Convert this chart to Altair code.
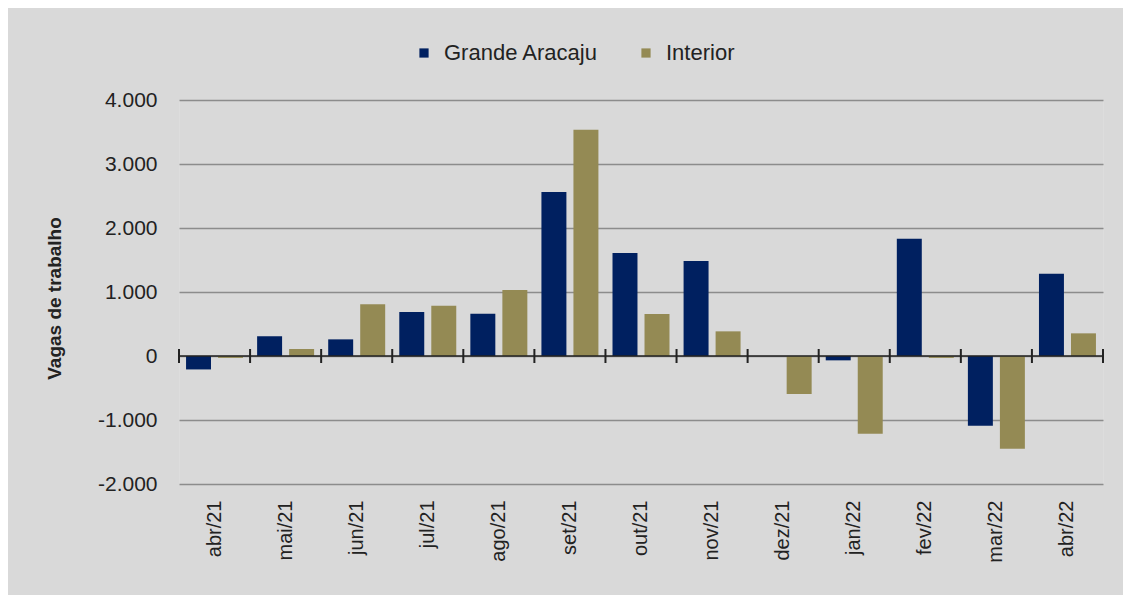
import altair as alt
import pandas as pd

meses = ["abr/21", "mai/21", "jun/21", "jul/21", "ago/21", "set/21", "out/21",
         "nov/21", "dez/21", "jan/22", "fev/22", "mar/22", "abr/22"]
series = ["Grande Aracaju", "Interior"]
grande_aracaju = [-210, 307, 260, 688, 661, 2562, 1609, 1484, 0, -68, 1833, -1089, 1286]
interior = [-30, 110, 807, 786, 1031, 3536, 656, 385, -594, -1214, -30, -1448, 354]
y_ticks = [-2000, -1000, 0, 1000, 2000, 3000, 4000]
colors = ["#002060", "#948A54"]

rows = []
for i, m in enumerate(meses):
    rows.append({"mes": m, "serie": series[0], "valor": grande_aracaju[i]})
    rows.append({"mes": m, "serie": series[1], "valor": interior[i]})
df = pd.DataFrame(rows)
df_meses = pd.DataFrame({"mes": meses})

FONT = "Liberation Sans"
x_scale = alt.Scale(paddingInner=0, paddingOuter=0)

bars = alt.Chart(df).mark_bar().encode(
    x=alt.X("mes:N", sort=meses, scale=x_scale,
            axis=alt.Axis(title=None, labelAngle=-90, labelFontSize=20, labelPadding=16,
                          ticks=False, domain=False, labelColor="#222222", grid=False)),
    xOffset=alt.XOffset("serie:N", sort=series,
                        scale=alt.Scale(paddingInner=0.22, paddingOuter=0.22)),
    y=alt.Y("valor:Q", scale=alt.Scale(domain=[-2000, 4000], nice=False, zero=False),
            axis=alt.Axis(values=y_ticks, title="Vagas de trabalho",
                          labelExpr="replace(replace(format(datum.value, ',.0f'), ',', '.'), '\u2212', '-')",
                          labelFontSize=21, labelColor="#222222", labelPadding=22,
                          ticks=False, domain=False, grid=True, gridColor="#8c8c8c", gridWidth=1.5,
                          titleFontSize=19, titleFontWeight="bold", titleColor="#222222",
                          titleX=-125, titleY=198, titleAngle=-90, titleAlign="center",
                          titleBaseline="middle")),
    color=alt.Color("serie:N", sort=series, scale=alt.Scale(domain=series, range=colors),
                    legend=alt.Legend(title=None, orient="none", direction="horizontal",
                                      legendX=234, legendY=-58, symbolType="square",
                                      symbolSize=85, labelFontSize=22, labelColor="#222222",
                                      labelOffset=9, columnPadding=36, padding=0,
                                      symbolStrokeWidth=0)),
)

zero_line = alt.Chart(df_meses).transform_filter(
    alt.datum.mes == meses[0]
).mark_rule(color="#222222", strokeWidth=1.5).encode(y=alt.datum(0))

ticks = alt.Chart(df_meses).mark_rule(
    color="#222222", strokeWidth=2, yOffset=-7, y2Offset=7
).encode(
    x=alt.X("mes:N", sort=meses, bandPosition=0),
    y=alt.datum(0),
    y2=alt.datum(0),
)

tick_end = alt.Chart(df_meses).transform_filter(
    alt.datum.mes == meses[-1]
).mark_rule(
    color="#222222", strokeWidth=2, yOffset=-7, y2Offset=7
).encode(
    x=alt.X("mes:N", sort=meses, bandPosition=1),
    y=alt.datum(0),
    y2=alt.datum(0),
)

chart = alt.layer(bars, zero_line, ticks, tick_end).properties(
    width=924, height=384,
    autosize=alt.AutoSizeParams(type="none"),
    padding={"left": 171, "top": 92, "right": 20, "bottom": 111},
    background="#d9d9d9",
).configure_view(fill="#f2f2f2", stroke=None).configure(font=FONT)

chart.save("out.html", embed_options={"renderer": "svg", "actions": False})
